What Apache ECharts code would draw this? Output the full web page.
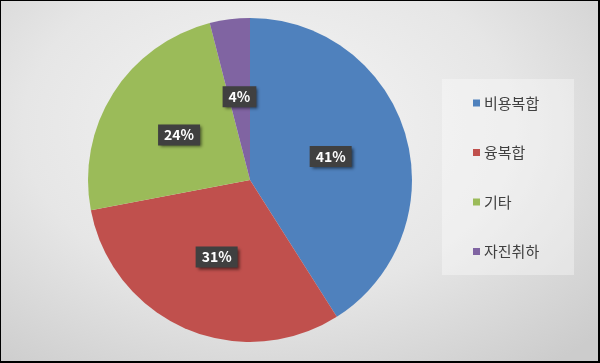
<!DOCTYPE html>
<html><head><meta charset="utf-8">
<script src="https://cdn.jsdelivr.net/npm/echarts@6/dist/echarts.min.js"></script>
<style>
html,body{margin:0;padding:0;}
#wrap{position:relative;width:600px;height:363px;box-sizing:border-box;border-top:1px solid #000;border-left:1px solid #000;border-right:2px solid #000;border-bottom:2px solid #000;
background:radial-gradient(ellipse 75% 85% at 45% 35%, #f5f5f5 0%, #e6e6e6 55%, #cccccc 100%);}
#c{position:absolute;left:-1px;top:-1px;width:600px;height:363px;}
</style></head>
<body><div id="wrap"><div id="c"></div></div>
<script>
const categories = ['비용복합','융복합','기타','자진취하'];
const values = [41, 31, 24, 4];
const colors = ['#4F81BD','#C0504D','#9BBB59','#8064A2'];

const chart = echarts.init(document.getElementById('c'), null, {renderer:'canvas'});
const font = '"Noto Sans CJK KR", "Noto Sans", sans-serif';
chart.setOption({
  backgroundColor: 'transparent',
  animation: false,
  color: colors,
  graphic: [{
    type: 'rect', shape: {x: 442, y: 79, width: 132, height: 196},
    style: {fill: 'rgba(255,255,255,0.35)'}, z: -1
  }],
  legend: {
    orient: 'vertical', left: 473, top: 94.5, padding: 0,
    itemWidth: 7, itemHeight: 7, itemGap: 32.5,
    icon: 'rect',
    textStyle: {fontFamily: font, fontSize: 15, color: '#404040', lineHeight: 17, padding: [0,0,0,-1]},
    data: categories
  },
  series: [{
    type: 'pie',
    center: [250, 180],
    radius: [0, 162],
    startAngle: 90,
    clockwise: true,
    avoidLabelOverlap: false,
    itemStyle: {borderWidth: 0},
    label: {
      position: 'inside',
      formatter: p => p.value + '%',
      fontFamily: font, fontSize: 14, fontWeight: 'bold', color: '#fff',
      backgroundColor: '#404040',
      padding: [4, 6, 3, 6],
      shadowColor: 'rgba(0,0,0,0.55)', shadowBlur: 3, shadowOffsetX: 2, shadowOffsetY: 2
    },
    labelLine: {show: false},
    emphasis: {disabled: true},
    data: categories.map((n, i) => ({name: n, value: values[i]}))
  }]
});
</script></body></html>
